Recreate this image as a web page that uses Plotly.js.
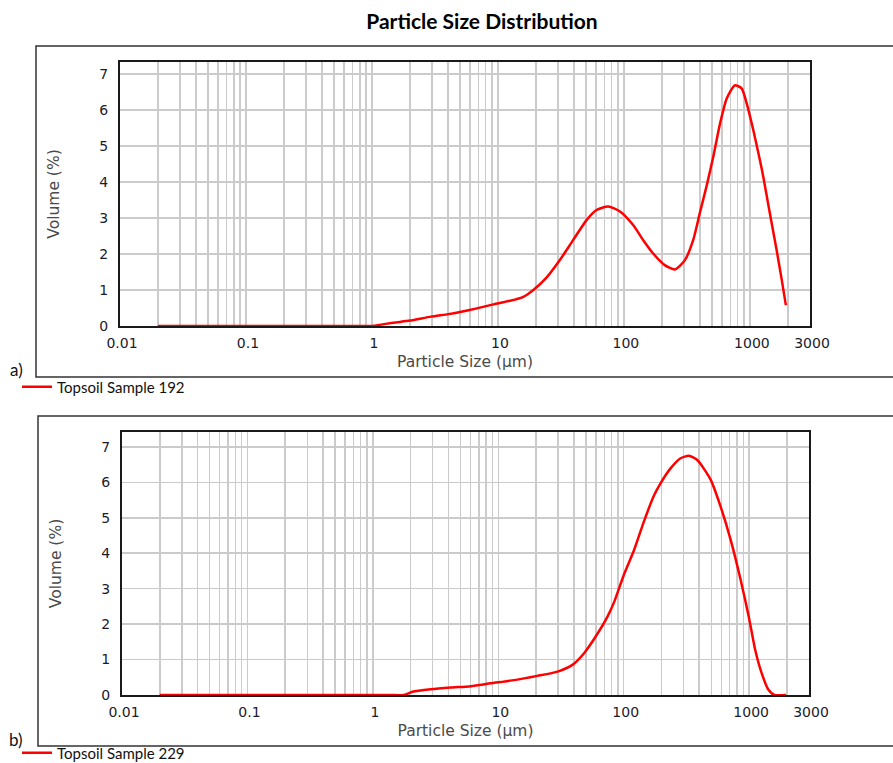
<!DOCTYPE html>
<html>
<head>
<meta charset="utf-8">
<script src="https://cdn.plot.ly/plotly-3.0.1.min.js"></script>
<style>html,body{margin:0;padding:0;background:#fff;}#chart{width:893px;height:763px;}</style>
</head>
<body>
<div id="chart"></div>
<script>
// ---- Data ----
const chartTitle = "Particle Size Distribution";
const xTitle = "Particle Size (µm)";
const yTitle = "Volume (%)";
const seriesNameA = "Topsoil Sample 192";
const seriesNameB = "Topsoil Sample 229";

const sizesA  = [0.02, 0.05, 0.1, 0.3, 0.6, 1.0, 1.05, 1.47, 2.0, 2.94, 4.03, 5.0, 6.8, 9.2, 12.5, 15.9, 19.1, 24.4, 31.0, 39.6, 50.5, 60.6, 75, 93, 118, 142, 170, 211, 254, 305, 355, 400, 452, 512, 580, 655, 760, 860, 942, 1064, 1200, 1276, 1440, 1630, 1790, 1930];
const volumeA = [0,    0,    0,   0,   0,   0,   0.01, 0.09, 0.15, 0.26, 0.33, 0.39, 0.49, 0.60, 0.70, 0.81, 1.00, 1.35, 1.83, 2.39, 2.94, 3.22, 3.32, 3.18, 2.81, 2.39, 2.02, 1.69, 1.57, 1.83, 2.39, 3.13, 3.87, 4.70, 5.63, 6.32, 6.68, 6.60, 6.19, 5.44, 4.61, 4.15, 3.13, 2.11, 1.28, 0.58];

const sizesB  = [0.02, 0.05, 0.1, 0.3, 0.6, 1.0, 1.4, 1.77, 2.07, 2.9, 4.18, 6.04, 8.7, 13.4, 20.5, 29.7, 39.0, 48.3, 59.8, 74.2, 83.8, 100.5, 121, 145, 175, 197, 237, 284, 331, 386, 494, 593, 713, 855, 993, 1118, 1260, 1430, 1590, 1970];
const volumeB = [0,    0,    0,   0,   0,   0,   0,   0,    0.09, 0.16, 0.21, 0.25, 0.33, 0.42, 0.54, 0.66, 0.85, 1.18, 1.65, 2.21, 2.62, 3.40, 4.09, 4.90, 5.64, 5.98, 6.40, 6.68, 6.75, 6.63, 6.07, 5.31, 4.37, 3.25, 2.21, 1.27, 0.61, 0.14, 0.0, 0.0];

const xTickLabels = ["0.01", "0.1", "1", "10", "100", "1000", "3000"];
const yTickVals = [0, 1, 2, 3, 4, 5, 6, 7];

// ---- grid positions on the log axis (labelled decades + unlabelled 2..9 lines) ----
const gridVals = [], gridText = [];
[0.01, 0.1, 1, 10, 100, 1000].forEach((d, i) => {
  gridVals.push(d); gridText.push(xTickLabels[i]);
  for (let m = 2; m <= 9; m++) {
    const v = +(d * m).toPrecision(3);
    if (v <= 3000) {
      gridVals.push(v);
      gridText.push(v === 3000 ? xTickLabels[6] : "");
    }
  }
});

const W = 893, H = 763;
const px = v => v / W;
const py = v => 1 - v / H;

const tickFont = {family: "DejaVu Sans", size: 14, color: "#1b1b2b"};
const titleFont = {family: "DejaVu Sans", size: 15.5, color: "#4a4a4a"};

function xAxis(domain, anchor) {
  return {
    type: "log", domain: domain, anchor: anchor,
    range: [Math.log10(0.01), Math.log10(3000)],
    tickmode: "array", tickvals: gridVals, ticktext: gridText,
    ticks: "", ticklabelstandoff: 3, ticklabelshift: 2,
    showgrid: true, gridcolor: "#cbcbcb", gridwidth: 1.5,
    showline: true, mirror: true, linecolor: "#1a1a1a", linewidth: 2,
    zeroline: false, tickfont: tickFont, automargin: false,
    title: {text: xTitle, font: titleFont, standoff: 6}
  };
}
function yAxis(domain, anchor, top) {
  return {
    domain: domain, anchor: anchor, range: [0, top],
    tickmode: "array", tickvals: yTickVals,
    ticks: "", ticklabelstandoff: 7,
    showgrid: true, gridcolor: "#cbcbcb", gridwidth: 1.5,
    showline: true, mirror: true, linecolor: "#1a1a1a", linewidth: 2,
    zeroline: false, tickfont: tickFont, automargin: false,
    title: {text: yTitle, font: titleFont, standoff: 36}
  };
}

const traces = [
  {x: sizesA, y: volumeA, xaxis: "x", yaxis: "y", type: "scatter", mode: "lines",
   name: seriesNameA, legend: "legend",
   line: {color: "#ff0000", width: 2.5, shape: "spline", smoothing: 0.6}},
  {x: sizesB, y: volumeB, xaxis: "x2", yaxis: "y2", type: "scatter", mode: "lines",
   name: seriesNameB, legend: "legend2",
   line: {color: "#ff0000", width: 2.5, shape: "spline", smoothing: 0.6}}
];

const legendFont = {family: "Lato", size: 15, color: "#111"};
const layout = {
  width: W, height: H,
  margin: {l: 0, r: 0, t: 0, b: 0, autoexpand: false},
  paper_bgcolor: "#fff", plot_bgcolor: "#fff",
  title: {text: "<b>" + chartTitle + "</b>", font: {family: "Lato", size: 21, color: "#000"},
          x: px(482), xanchor: "center", xref: "paper", y: py(22), yanchor: "middle", yref: "paper"},
  xaxis: xAxis([px(120), px(810)], "y"),
  yaxis: yAxis([py(326), py(62)], "x", 7.33),
  xaxis2: xAxis([px(122), px(809)], "y2"),
  yaxis2: yAxis([py(695), py(432)], "x2", 7.42),
  showlegend: true,
  legend: {x: px(17), xanchor: "left", y: py(387), yanchor: "middle", font: legendFont,
           bgcolor: "rgba(0,0,0,0)", borderwidth: 0, tracegroupgap: 0},
  legend2: {x: px(17), xanchor: "left", y: py(753), yanchor: "middle", font: legendFont,
            bgcolor: "rgba(0,0,0,0)", borderwidth: 0, tracegroupgap: 0},
  shapes: [
    {type: "rect", xref: "paper", yref: "paper", x0: px(36), x1: px(900), y0: py(377), y1: py(46),
     line: {color: "#333", width: 1.5}, layer: "below"},
    {type: "rect", xref: "paper", yref: "paper", x0: px(38), x1: px(900), y0: py(746), y1: py(416),
     line: {color: "#333", width: 1.5}, layer: "below"}
  ],
  annotations: [
    {text: "a)", xref: "paper", yref: "paper", x: px(16), y: py(370), xanchor: "center", yanchor: "middle",
     showarrow: false, font: {family: "Lato", size: 17, color: "#111"}},
    {text: "b)", xref: "paper", yref: "paper", x: px(16), y: py(739), xanchor: "center", yanchor: "middle",
     showarrow: false, font: {family: "Lato", size: 17, color: "#111"}}
  ]
};

Plotly.newPlot("chart", traces, layout, {displayModeBar: false, staticPlot: true});
</script>
</body>
</html>
